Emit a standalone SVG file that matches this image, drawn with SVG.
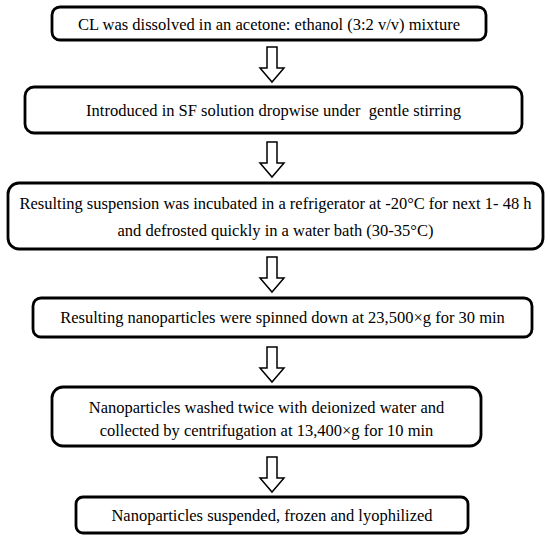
<svg xmlns="http://www.w3.org/2000/svg" width="550" height="541" viewBox="0 0 550 541">
<defs>
<style>
.box{fill:#fff;stroke:#000;stroke-width:2.8}
.lbl{font-family:'Liberation Serif','DejaVu Serif',serif;font-size:16.5px;fill:#000;text-anchor:middle}
.arr{fill:#fff;stroke:#000;stroke-width:1.5;stroke-linejoin:miter}
</style>
<path id="arrow" class="arr" d="M-5,0 H5 V21 H12 L0,35 L-12,21 H-5 Z"/>
</defs>
<rect width="550" height="541" fill="#fff"/>
<g id="connectors">
<use href="#arrow" x="272" y="47"/>
<use href="#arrow" x="272" y="142"/>
<use href="#arrow" x="272" y="257"/>
<use href="#arrow" x="272" y="347"/>
<use href="#arrow" x="272" y="457"/>
</g>
<g id="n1">
<rect class="box" x="52" y="7" width="434" height="33" rx="8"/>
<text class="lbl" x="269" y="30">CL was dissolved in an acetone: ethanol (3:2 v/v) mixture</text>
</g>
<g id="n2">
<rect class="box" x="25" y="87" width="497" height="46" rx="9"/>
<text class="lbl" x="273.5" y="116" xml:space="preserve">Introduced in SF solution dropwise under  gentle stirring</text>
</g>
<g id="n3">
<rect class="box" x="8" y="183" width="535" height="66" rx="11"/>
<text class="lbl" x="275.5" y="209">Resulting suspension was incubated in a refrigerator at -20°C for next 1- 48 h</text>
<text class="lbl" x="275.5" y="236">and defrosted quickly in a water bath (30-35°C)</text>
</g>
<g id="n4">
<rect class="box" x="33" y="298" width="499" height="39" rx="8"/>
<text class="lbl" x="282.5" y="323">Resulting nanoparticles were spinned down at 23,500×g for 30 min</text>
</g>
<g id="n5">
<rect class="box" x="52" y="387" width="429" height="59" rx="11"/>
<text class="lbl" x="266.5" y="413">Nanoparticles washed twice with deionized water and</text>
<text class="lbl" x="266.5" y="436">collected by centrifugation at 13,400×g for 10 min</text>
</g>
<g id="n6">
<rect class="box" x="76" y="497" width="392" height="36" rx="7"/>
<text class="lbl" x="272" y="521">Nanoparticles suspended, frozen and lyophilized</text>
</g>
</svg>
